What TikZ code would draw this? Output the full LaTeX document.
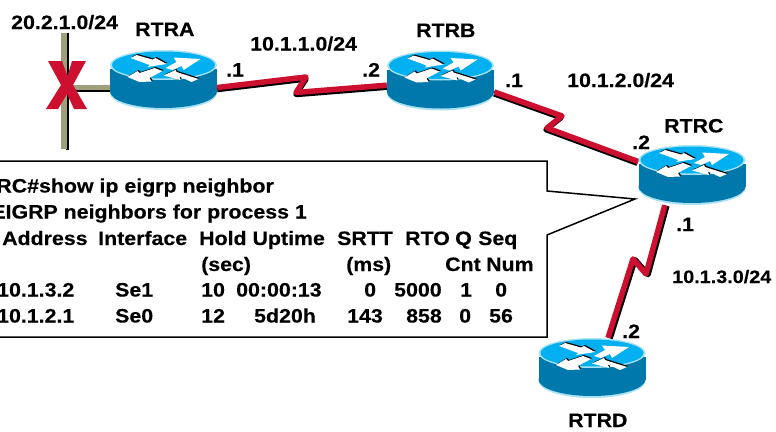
\documentclass[tikz,border=0pt]{standalone}
\usepackage{fontspec}
\setmainfont{Liberation Sans}[FakeStretch=1.1,BoldFeatures={FakeStretch=1.1,FakeBold=0.25}]
\definecolor{rtop}{HTML}{00B0F0}
\definecolor{rrim}{HTML}{A8E2F2}
\definecolor{rbody}{HTML}{0078AB}
\definecolor{cable}{HTML}{A09F7C}
\definecolor{linkred}{HTML}{CE1030}
\newcommand{\ArrowOne}{(-33,-7) -- (-27,-10) -- (-11,-5.5) -- (-8,-7) -- (3,-1) -- (-16,2) -- (-14,0) -- (-22,-3) -- cycle}
\newcommand{\ArrowTwo}{(2,3) -- (13,-3) -- (10,-7.5) -- (37,-6) -- (20,5) -- (18,1) -- (9,5) -- cycle}
\newcommand{\ArrowThree}{(-36,12) -- (-26,6) -- (-24,8) -- (-9,3) -- (-1,6) -- (-14,13) -- (-12,16.5) -- (-24,17) -- cycle}
\newcommand{\ArrowFour}{(0,10.5) -- (12,5) -- (13,7) -- (35,14) -- (28,17) -- (16,11.5) -- (17,15) -- cycle}
\newcommand{\routerart}[2]{%
  \begin{scope}[shift={(#1,#2)}]
    \fill[rrim] (0,28) ellipse [x radius=53.5, y radius=17];
    \fill[rbody] (-53.5,4) rectangle (53.5,27);
    \fill[rbody] (0,26.5) ellipse [x radius=53.5, y radius=16.5];
    \fill[rrim] (0,0) ellipse [x radius=53.5, y radius=15];
    \fill[rtop] (0,0) ellipse [x radius=51.5, y radius=13.5];
    \begin{scope}[shift={(1,-1)}]
      \fill[black] \ArrowOne;
      \fill[black] \ArrowThree;
      \fill[black] \ArrowFour;
    \end{scope}
    \fill[white] \ArrowOne;
    \fill[white] \ArrowTwo;
    \fill[white] \ArrowThree;
    \fill[white] \ArrowFour;
  \end{scope}}
% a serial link: a black copy shifted on the canvas, then the red line
\newcommand{\seriallink}[2]{%
  \begin{scope}[transform canvas={shift={(#1)}}]
    \draw[serialline, draw=black] #2;
  \end{scope}
  \draw[serialline] #2;}
\tikzset{
  routerbox/.style={inner sep=0pt, minimum width=107pt, minimum height=60pt},
  serialline/.style={draw=linkred, line width=5.5pt, line join=round},
  lab/.style={inner sep=0pt, anchor=base west, font=\fontsize{19.4pt}{21pt}\selectfont\bfseries},
  labe/.style={lab, anchor=base east},
  smalllab/.style={lab, font=\fontsize{18pt}{20pt}\selectfont\bfseries},
  callout/.style={draw=black, fill=white, line width=1.5pt, line join=miter}
}
\begin{document}
\begin{tikzpicture}[x=1pt,y=-1pt]
\useasboundingbox (0,0) rectangle (776,431);
\clip (0,0) rectangle (776,431);
\fill[white] (0,0) rectangle (776,431);
% router boxes
\node[routerbox] (rtra) at (163.5,80) {};
\node[routerbox] (rtrb) at (440.5,80.5) {};
\node[routerbox] (rtrc) at (692,175) {};
\node[routerbox] (rtrd) at (592,368) {};
% LAN cable
\coordinate (lanJ) at (63.5,87.5);
\coordinate (lanK) at (66,90.5);
\fill[black] (66,33) rectangle (68.5,150);
\fill[cable] (61,33) rectangle (66.5,149);
\draw[black, line width=2pt] (lanK) -- (lanK -| rtra.center);
\draw[cable, line width=5pt] (lanJ) -- (lanJ -| rtra.center);
% serial links
\coordinate (abTop) at (306,77);
\coordinate (abBot) at (296,92.5);
\coordinate (bcTop) at (562,116);
\coordinate (bcBot) at (547,128);
\coordinate (cdBot) at (646,274);
\coordinate (cdTop) at (633,259);
\seriallink{0pt,-2pt}{(rtra.-8) -- (abTop) -- (abBot) -- (rtrb.185)}
\seriallink{-1pt,-1.6pt}{(rtrb.-12) -- (bcTop) -- (bcBot) -- (rtrc.166)}
\seriallink{2pt,-0.6pt}{(rtrc.228) -- (cdBot) -- (cdTop) -- (rtrd.62)}
% router drawings
\routerart{163.5}{65}
\routerart{440.5}{65.5}
\routerart{692}{160}
\routerart{592}{353}
% red X
\fill[linkred] (48,61) -- (62,61) -- (67.5,76) -- (72,61) -- (86,61) -- (73,85) -- (87,109) -- (74,109) -- (67,94) -- (58,109) -- (46,109) -- (61,85) -- cycle;
% callout
\coordinate (cTL) at (-10,161);
\coordinate (cTR) at (547,161);
\coordinate (cN1) at (547,191);
\coordinate (cTip) at (635,199);
\coordinate (cN2) at (547,235);
\coordinate (cBR) at (547,337);
\coordinate (cBL) at (-10,337);
\draw[callout] (cTL) -- (cTR) -- (cN1) -- (cTip) -- (cN2) -- (cBR) -- (cBL);
% network labels
\node[lab] (n1) at (11,29) {20.2.1.0/24};
\node[lab] (n2) at (250,50.5) {10.1.1.0/24};
\node[lab] (n3) at (567,87) {10.1.2.0/24};
\node[smalllab] (n4) at (672,283) {10.1.3.0/24};
\node[lab] (ra) at (135,36) {RTRA};
\node[lab] (rb) at (416,37) {RTRB};
\node[lab] (rc) at (664,132.5) {RTRC};
\node[lab] (rd) at (568,427) {RTRD};
\node[lab] (i1) at (226,76.5) {.1};
\node[lab] (i2) at (362,76.5) {.2};
\node[lab] (i3) at (505,87) {.1};
\node[lab] (i4) at (632,149) {.2};
\node[lab] (i5) at (676,231) {.1};
\node[lab] (i6) at (622,338) {.2};
% table
\node[labe] (l1) at (274,192.5) {RC\#show ip eigrp neighbor};
\node[labe] (l2) at (307,218.5) {EIGRP neighbors for process 1};
\node[lab] (h1) at (2,245) {Address};
\node[lab] (h2) at (98,245) {Interface};
\node[lab] (h3) at (199,245) {Hold Uptime};
\node[lab] (h4) at (337,245) {SRTT};
\node[lab] (h5) at (405,245) {RTO};
\node[lab] (h6) at (455,245) {Q};
\node[lab] (h7) at (478,245) {Seq};
\node[lab] (s1) at (201,271) {(sec)};
\node[lab] (s2) at (346,271) {(ms)};
\node[lab] (s3) at (445,271) {Cnt};
\node[lab] (s4) at (486,271) {Num};
\node[lab] (a1) at (-3,296.5) {10.1.3.2};
\node[lab] (a2) at (115,296.5) {Se1};
\node[lab] (a3) at (201,296.5) {10};
\node[lab] (a4) at (236,296.5) {00:00:13};
\node[lab] (a5) at (364,296.5) {0};
\node[lab] (a6) at (394,296.5) {5000};
\node[lab] (a7) at (460,296.5) {1};
\node[lab] (a8) at (495,296.5) {0};
\node[lab] (b1) at (-3,322.5) {10.1.2.1};
\node[lab] (b2) at (115,322.5) {Se0};
\node[lab] (b3) at (201,322.5) {12};
\node[lab] (b4) at (254,322.5) {5d20h};
\node[lab] (b5) at (347,322.5) {143};
\node[lab] (b6) at (406,322.5) {858};
\node[lab] (b7) at (459,322.5) {0};
\node[lab] (b8) at (489,322.5) {56};
\end{tikzpicture}
\end{document}
